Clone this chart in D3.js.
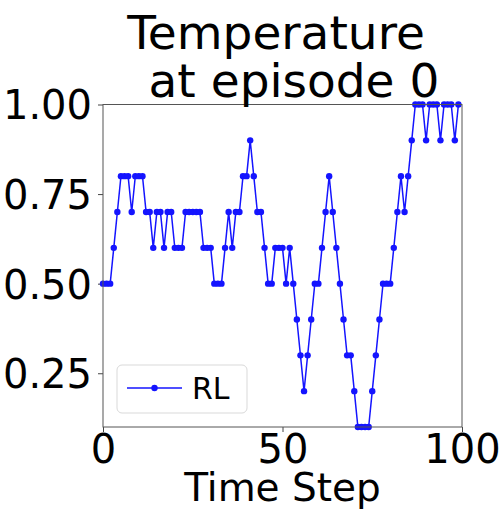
<!DOCTYPE html>
<html>
<head>
<meta charset="utf-8">
<script src="https://cdn.jsdelivr.net/npm/d3@7"></script>
<style>
  html, body { margin: 0; padding: 0; background: #fff; }
  svg { display: block; font-family: "DejaVu Sans", sans-serif; }
</style>
</head>
<body>
<svg id="chart" width="500" height="511"></svg>
<script>
// Temperature chosen by the RL agent at each time step of episode 0
const timeSteps = d3.range(0, 100);
const rlTemperature = [
  0.5, 0.5, 0.5, 0.6, 0.7, 0.8, 0.8, 0.8, 0.7, 0.8,
  0.8, 0.8, 0.7, 0.7, 0.6, 0.7, 0.7, 0.6, 0.7, 0.7,
  0.6, 0.6, 0.6, 0.7, 0.7, 0.7, 0.7, 0.7, 0.6, 0.6,
  0.6, 0.5, 0.5, 0.5, 0.6, 0.7, 0.6, 0.7, 0.7, 0.8,
  0.8, 0.9, 0.8, 0.7, 0.7, 0.6, 0.5, 0.5, 0.6, 0.6,
  0.6, 0.5, 0.6, 0.5, 0.4, 0.3, 0.2, 0.3, 0.4, 0.5,
  0.5, 0.6, 0.7, 0.8, 0.7, 0.6, 0.5, 0.4, 0.3, 0.3,
  0.2, 0.1, 0.1, 0.1, 0.1, 0.2, 0.3, 0.4, 0.5, 0.5,
  0.5, 0.6, 0.7, 0.8, 0.7, 0.8, 0.9, 1.0, 1.0, 1.0,
  0.9, 1.0, 1.0, 1.0, 0.9, 1.0, 1.0, 1.0, 0.9, 1.0
];
const xTicks = [0, 50, 100];
const yTicks = [0.25, 0.50, 0.75, 1.00];
const titleLines = ["Temperature", " at episode 0"];
const xLabel = "Time Step";
const seriesName = "RL";

const svg = d3.select("#chart");
const plot = { left: 103, right: 462, top: 104.5, bottom: 427 };
const lineColor = "#1414ff";

const x = d3.scaleLinear().domain([0, 100]).range([plot.left, plot.right]);
const y = d3.scaleLinear().domain([0.1, 1.0]).range([plot.bottom, plot.top]);

// Axes
const xAxis = d3.axisBottom(x).tickValues(xTicks).tickFormat(d3.format("d"))
  .tickSize(5).tickPadding(3);
const yAxis = d3.axisLeft(y).tickValues(yTicks).tickFormat(d3.format(".2f"))
  .tickSize(5).tickPadding(6);

const gx = svg.append("g").attr("transform", `translate(0,${plot.bottom})`).call(xAxis);
const gy = svg.append("g").attr("transform", `translate(${plot.left},0)`).call(yAxis);
[gx, gy].forEach(g => {
  g.select(".domain").remove();
  g.selectAll(".tick line").attr("stroke", "#444").attr("stroke-width", 1);
  g.selectAll(".tick text").attr("fill", "#000").style("font-size", "40px")
    .style("font-family", "DejaVu Sans, sans-serif");
});
gy.selectAll(".tick text").attr("dy", "0.36em");
gx.selectAll(".tick text").attr("dy", "0.7em");

// Data line with point markers
const pts = timeSteps.map((t, i) => [t, rlTemperature[i]]);
const clipId = "plot-clip";
svg.append("clipPath").attr("id", clipId).append("rect")
  .attr("x", plot.left - 4).attr("y", plot.top - 4)
  .attr("width", plot.right - plot.left + 8).attr("height", plot.bottom - plot.top + 8);
const series = svg.append("g").attr("clip-path", `url(#${clipId})`);
series.append("path")
  .datum(pts)
  .attr("fill", "none")
  .attr("stroke", lineColor)
  .attr("stroke-width", 1.5)
  .attr("d", d3.line().x(d => x(d[0])).y(d => y(d[1])));
series.selectAll("circle").data(pts).join("circle")
  .attr("cx", d => x(d[0])).attr("cy", d => y(d[1]))
  .attr("r", 3.2).attr("fill", lineColor);

// Frame
svg.append("rect")
  .attr("x", plot.left).attr("y", plot.top)
  .attr("width", plot.right - plot.left).attr("height", plot.bottom - plot.top)
  .attr("fill", "none").attr("stroke", "#555").attr("stroke-width", 1);

// Title: one text block, two lines; the second keeps its leading space
const cx = (plot.left + plot.right) / 2;
const title = svg.append("text").attr("text-anchor", "middle")
  .attr("xml:space", "preserve")
  .style("font-size", "47px").style("white-space", "pre");
title.append("tspan").attr("x", cx - 6.5).attr("y", 49).text(titleLines[0]);
title.append("tspan").attr("x", cx + 4).attr("y", 97).text(titleLines[1]);

// X axis label
svg.append("text").attr("x", cx).attr("y", 501).attr("text-anchor", "middle")
  .style("font-size", "39px").text(xLabel);

// Legend
const lg = svg.append("g");
lg.append("rect").attr("x", 117).attr("y", 365).attr("width", 130).attr("height", 48)
  .attr("rx", 5).attr("fill", "#fff").attr("fill-opacity", 0.8)
  .attr("stroke", "#d9d9d9").attr("stroke-width", 1);
lg.append("line").attr("x1", 127).attr("x2", 182).attr("y1", 388).attr("y2", 388)
  .attr("stroke", lineColor).attr("stroke-width", 1.5);
lg.append("circle").attr("cx", 154.5).attr("cy", 388).attr("r", 3.2).attr("fill", lineColor);
lg.append("text").attr("x", 192).attr("y", 399).style("font-size", "30px").text(seriesName);
</script>
</body>
</html>
